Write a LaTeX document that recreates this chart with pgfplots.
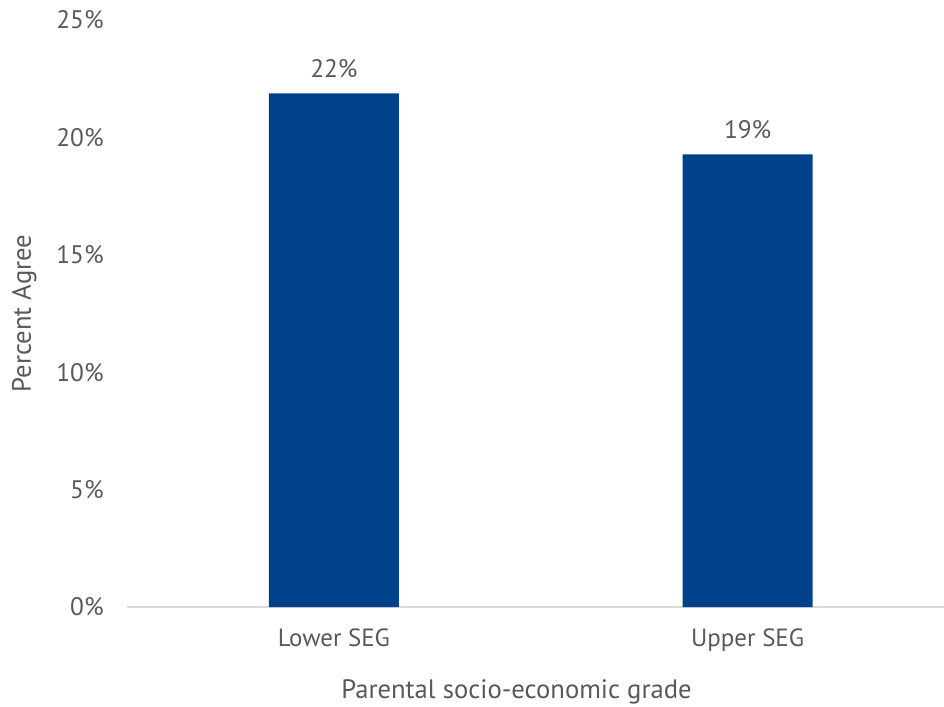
\documentclass[border=0pt]{standalone}
\usepackage{pgfplots}
\pgfplotsset{compat=1.18}
\usepackage{fontspec}
\setmainfont{PT Sans}
\definecolor{barblue}{HTML}{00428A}
\definecolor{txtgray}{HTML}{595959}
\definecolor{axgray}{HTML}{D9D9D9}
\begin{document}
\begin{tikzpicture}[x=0.75pt,y=0.75pt]
\begin{axis}[
  scale only axis,
  width=612.75pt, height=440.25pt,
  at={(0,0)}, anchor=south west,
  ymin=0, ymax=25,
  xmin=-0.5, xmax=1.4745,
  ytick={0,5,10,15,20,25},
  yticklabel={\pgfmathprintnumber{\tick}\%},
  /pgf/number format/assume math mode=true,
  xtick={0,1},
  xticklabels={Lower SEG, Upper SEG},
  major tick length=0pt,
  axis x line*=bottom,
  axis y line*=left,
  y axis line style={draw=none},
  x axis line style={axgray, line width=1.5pt},
  ybar,
  bar width=0.314,
  yticklabel style={font=\fontsize{19}{22}\selectfont, text=txtgray, xshift=-14pt},
  xticklabel style={font=\fontsize{18.7}{22}\selectfont, text=txtgray, yshift=-13pt},
  xlabel={Parental socio-economic grade},
  ylabel={Percent Agree},
  label style={font=\fontsize{20}{23}\selectfont, text=txtgray},
  xlabel style={yshift=-14pt, xshift=-14.25pt},
  ylabel style={yshift=8pt},
  nodes near coords={\pgfmathprintnumber[fixed,precision=0]{\pgfplotspointmeta}\%},
  nodes near coords style={font=\fontsize{19}{22}\selectfont, text=txtgray, yshift=8pt},
  clip=false,
]
\addplot[fill=barblue, draw=none] coordinates {(0,21.88) (1,19.28)};
\end{axis}
\pgfresetboundingbox
\path[use as bounding box] (-127,-99) rectangle (817,607);
\end{tikzpicture}
\end{document}
